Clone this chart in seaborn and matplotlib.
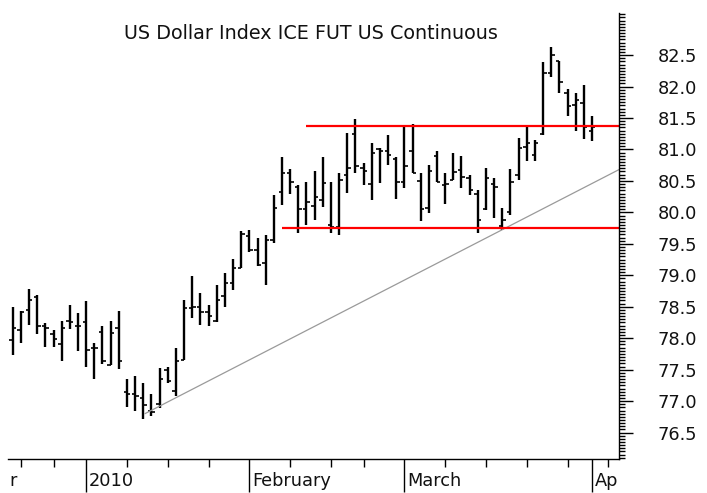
import numpy as np
import pandas as pd
import matplotlib
matplotlib.use("Agg")
import matplotlib.pyplot as plt
import matplotlib.transforms as mtransforms
import seaborn as sns
from matplotlib.ticker import FixedLocator, MultipleLocator, FormatStrFormatter

# daily OHLC bars, Dec 18 2009 .. Apr 1 2010 (one entry per trading day)
opens = [77.97, 78.13, 78.45, 78.65, 78.20, 78.07, 77.90, 78.28, 78.20, 78.26,
         77.85, 78.10, 77.58, 78.16, 77.15, 77.11, 77.05, 76.85, 76.95, 77.50,
         77.16, 77.66, 78.48, 78.50, 78.42, 78.27, 78.67, 78.88, 79.11, 79.63,
         79.40, 79.20, 79.56, 80.33, 80.62, 80.40, 80.05, 80.10, 80.20, 79.80,
         79.76, 80.60, 81.25, 80.70, 80.45, 81.00, 80.97, 80.85, 80.49, 80.97,
         80.50, 80.07, 80.90, 80.43, 80.52, 80.67, 80.55, 80.30, 80.05, 80.45,
         79.78, 80.00, 80.60, 81.04, 80.91, 81.24, 82.21, 82.40, 81.90, 81.70,
         81.74, 81.30]
highs = [78.49, 78.43, 78.78, 78.68, 78.24, 78.13, 78.27, 78.52, 78.40, 78.59,
         77.92, 78.20, 78.27, 78.43, 77.35, 77.40, 77.28, 77.12, 77.53, 77.55,
         77.84, 78.61, 78.99, 78.72, 78.52, 78.84, 79.03, 79.26, 79.70, 79.72,
         79.60, 79.64, 80.28, 80.88, 80.69, 80.44, 80.49, 80.65, 80.88, 80.49,
         80.63, 81.26, 81.48, 80.78, 81.10, 81.02, 81.23, 80.88, 81.36, 81.40,
         80.63, 80.75, 80.97, 80.62, 80.94, 80.90, 80.60, 80.36, 80.71, 80.54,
         80.07, 80.69, 81.19, 81.35, 81.15, 82.39, 82.63, 82.41, 81.96, 81.89,
         82.02, 81.53]
lows = [77.73, 77.92, 78.21, 78.06, 77.86, 77.86, 77.64, 78.15, 77.80, 77.54,
        77.35, 77.59, 77.58, 77.51, 76.91, 76.84, 76.72, 76.76, 76.89, 77.28,
        77.08, 77.66, 78.32, 78.21, 78.20, 78.25, 78.50, 78.76, 79.11, 79.37,
        79.14, 78.85, 79.52, 80.12, 80.29, 79.68, 79.80, 79.88, 80.09, 79.67,
        79.64, 80.31, 80.63, 80.44, 80.19, 80.47, 80.76, 80.21, 80.38, 80.62,
        79.86, 79.99, 80.49, 80.13, 80.52, 80.38, 80.28, 79.67, 80.03, 79.91,
        79.72, 79.96, 80.52, 80.81, 80.81, 81.23, 82.16, 81.90, 81.53, 81.30,
        81.17, 81.14]
closes = [78.16, 78.42, 78.60, 78.20, 78.16, 77.98, 78.16, 78.26, 78.20, 77.82,
          77.84, 77.63, 78.08, 77.63, 77.11, 77.08, 76.94, 76.82, 77.35, 77.32,
          77.63, 78.48, 78.50, 78.42, 78.35, 78.61, 78.88, 79.11, 79.66, 79.40,
          79.17, 79.56, 80.07, 80.63, 80.49, 80.05, 80.17, 80.25, 80.46, 79.77,
          80.52, 80.70, 80.74, 80.65, 80.95, 80.98, 80.92, 80.49, 80.74, 80.62,
          80.05, 80.65, 80.49, 80.45, 80.64, 80.56, 80.36, 79.88, 80.55, 80.40,
          79.88, 80.49, 81.02, 81.10, 81.10, 82.21, 82.50, 82.08, 81.69, 81.78,
          81.35, 81.35]

# x axis: month starts (long ticks) and week starts (short ticks), as bar numbers
month_days = [9, 29, 48, 71]
month_labels = ['2010', 'February', 'March', 'Ap']
week_days = [1, 5, 14, 19, 24, 34, 39, 43, 53, 58, 63, 68, 73]

# drawn lines
resistance = 81.37
resistance_start = 36
support = 79.75
support_start = 33
trend_days = [16.2, 74.3]
trend_prices = [76.80, 80.68]

y_labels = [76.5, 77.0, 77.5, 78.0, 78.5, 79.0, 79.5, 80.0, 80.5, 81.0, 81.5, 82.0, 82.5]

bars = pd.DataFrame({'day': np.arange(len(opens)), 'open': opens, 'high': highs,
                     'low': lows, 'close': closes})

sns.set_style('white')
plt.rcParams['font.family'] = ['DejaVu Sans']

fig = plt.figure(figsize=(7.07, 4.93), dpi=100)
ax = fig.add_axes([0.0113, 0.0690, 0.8642, 0.9047])

x_right = 74.3
ax.set_xlim(-0.58, x_right)
ax.set_ylim(76.08, 83.17)

# OHLC bars
ax.vlines(bars['day'], bars['low'], bars['high'], color='black', lw=1.7)
ax.hlines(bars['open'], bars['day'] - 0.42, bars['day'], color='black', lw=1.2)
ax.hlines(bars['close'], bars['day'], bars['day'] + 0.42, color='black', lw=1.2)

# trend line and horizontal levels
sns.lineplot(x=trend_days, y=trend_prices, color='#9a9a9a', lw=0.9, ax=ax)
ax.hlines([resistance, support], [resistance_start, support_start], x_right,
          color='#ff0000', lw=1.6)

ax.text(0.496, 0.955, 'US Dollar Index ICE FUT US Continuous', transform=ax.transAxes,
        ha='center', va='center', fontsize=13.8, color='#111111')

# spines
for side in ['left', 'top']:
    ax.spines[side].set_visible(False)
for side in ['right', 'bottom']:
    ax.spines[side].set_color('black')
    ax.spines[side].set_linewidth(1.0)

# y axis on the right
ax.yaxis.tick_right()
ax.yaxis.set_major_locator(FixedLocator(y_labels))
ax.yaxis.set_major_formatter(FormatStrFormatter('%.1f'))
ax.yaxis.set_minor_locator(MultipleLocator(0.05))
ax.tick_params(axis='y', which='major', right=True, left=False, length=10, width=1,
               color='black', pad=18, labelsize=12.8, labelcolor='#111111')
ax.tick_params(axis='y', which='minor', right=True, left=False, length=4.3, width=1,
               color='black')

# x axis
ax.xaxis.set_major_locator(FixedLocator(month_days))
ax.xaxis.set_minor_locator(FixedLocator(week_days))
ax.set_xticklabels([])
ax.tick_params(axis='x', which='major', bottom=True, length=24, width=1, color='black')
ax.tick_params(axis='x', which='minor', bottom=True, length=6, width=1, color='black')

trans = mtransforms.blended_transform_factory(ax.transData, ax.transAxes)
for d, lab in zip(month_days, month_labels):
    ax.text(d + 0.3, -0.05, lab, transform=trans, ha='left', va='center',
            fontsize=12.8, color='#111111', clip_on=False)
ax.text(-0.35, -0.05, 'r', transform=trans, ha='left', va='center',
        fontsize=12.8, color='#111111', clip_on=False)

ax.grid(False)
fig.savefig('out.png', dpi=100)
